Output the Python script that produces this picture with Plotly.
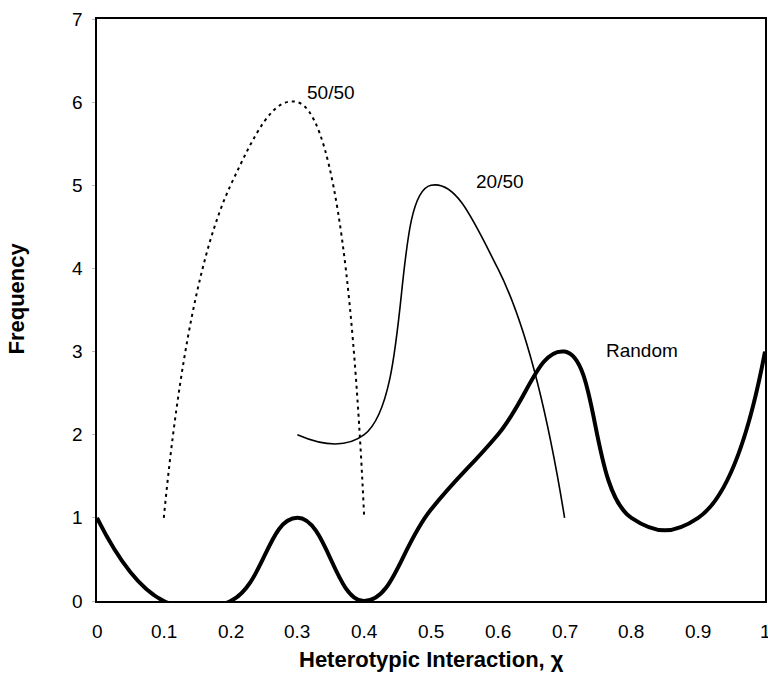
import plotly.graph_objects as go

# Data
x_random = [0, 0.1, 0.2, 0.3, 0.4, 0.5, 0.6, 0.7, 0.8, 0.9, 1.0]
y_random = [1, 0, 0, 1, 0, 1.1, 2, 3, 1, 1, 3]

x_2050 = [0.3, 0.4, 0.5, 0.6, 0.7]
y_2050 = [2, 2, 5, 4, 1]

x_5050 = [0.1, 0.2, 0.3, 0.4]
y_5050 = [1, 5, 6, 1]

x_ticks = [0, 0.1, 0.2, 0.3, 0.4, 0.5, 0.6, 0.7, 0.8, 0.9]
x_ticklabels = ["0", "0.1", "0.2", "0.3", "0.4", "0.5", "0.6", "0.7", "0.8", "0.9"]
last_tick = 1
last_ticklabel = "1"
y_ticks = [0, 1, 2, 3, 4, 5, 6, 7]

series_labels = ["50/50", "20/50", "Random"]
label_x = [0.351, 0.604, 0.816]
label_y = [6.12, 5.04, 3.01]

FONT = "Liberation Sans, Arial, sans-serif"
TICKFONT = dict(family=FONT, size=19, color="black")

fig = go.Figure()
fig.add_trace(go.Scatter(x=x_random, y=y_random, mode="lines",
                         line=dict(color="black", width=4, shape="spline", smoothing=1.3),
                         showlegend=False))
fig.add_trace(go.Scatter(x=x_2050, y=y_2050, mode="lines",
                         line=dict(color="black", width=1.6, shape="spline", smoothing=1.3),
                         showlegend=False))
fig.add_trace(go.Scatter(x=x_5050, y=y_5050, mode="lines",
                         line=dict(color="black", width=2, shape="spline", smoothing=1.3, dash="3px,4px"),
                         showlegend=False))

for t, lx, ly in zip(series_labels, label_x, label_y):
    fig.add_annotation(x=lx, y=ly, text=t, showarrow=False, xref="x", yref="y",
                       font=dict(family=FONT, size=19, color="black"))

# x tick labels as annotations (last one partly outside the page, as in the reference)
for tv, tl in zip(x_ticks + [last_tick], x_ticklabels + [last_ticklabel]):
    fig.add_annotation(x=tv, y=-0.053, xref="x", yref="paper", text=tl,
                       showarrow=False, xanchor="center", yanchor="middle",
                       font=TICKFONT)
# y tick labels as annotations
for tv in y_ticks:
    fig.add_annotation(x=-0.018, y=tv, xref="paper", yref="y", text=str(tv),
                       showarrow=False, xanchor="right", yanchor="middle",
                       font=TICKFONT)

fig.add_annotation(x=0.5, y=-0.1, xref="paper", yref="paper", text="<b>Heterotypic Interaction, χ</b>",
                   showarrow=False, yanchor="middle", font=dict(family=FONT, size=22, color="black"))
fig.add_annotation(x=-0.121, y=0.52, xref="paper", yref="paper", text="<b>Frequency</b>",
                   textangle=-90, showarrow=False, xanchor="center", yanchor="middle",
                   font=dict(family=FONT, size=22, color="black"))

fig.update_layout(
    width=768, height=687,
    margin=dict(l=97, r=1, t=19, b=86),
    plot_bgcolor="white", paper_bgcolor="white",
    font=dict(family=FONT, size=19, color="black"),
)
fig.update_xaxes(range=[0, 1], tickvals=x_ticks, showticklabels=False,
                 showgrid=False, zeroline=False, showline=True, linecolor="black", linewidth=1.5,
                 mirror=True, ticks="")
fig.update_yaxes(range=[0, 7], tickvals=y_ticks, showticklabels=False,
                 showgrid=False, zeroline=False, showline=True, linecolor="black", linewidth=1.5,
                 mirror=True, ticks="outside", ticklen=3, tickcolor="#bbb")

fig.write_html("out.html")
